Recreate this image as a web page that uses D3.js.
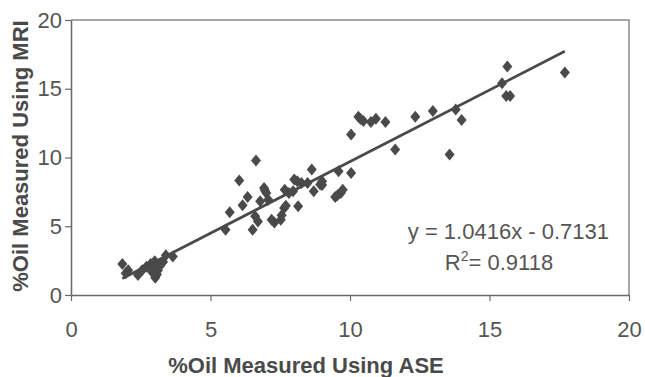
<!DOCTYPE html>
<html>
<head>
<meta charset="utf-8">
<script src="https://cdn.jsdelivr.net/npm/d3@7/dist/d3.min.js"></script>
<style>
  html, body { margin: 0; padding: 0; background: #fff; }
  svg { display: block; }
</style>
</head>
<body>
<svg id="chart" width="645" height="377"></svg>
<script>
// %Oil measured by accelerated solvent extraction (ASE)
const aseValues = [
  1.84, 1.96, 2.05, 2.40, 2.55, 2.70, 2.85, 2.95, 3.00, 3.02, 3.08, 3.12, 3.20, 3.30, 3.40, 3.65, 2.90,
  5.54, 5.69, 6.03, 6.15, 6.33, 6.51, 6.63, 6.60, 6.70, 6.78, 6.92, 7.00, 7.07, 7.19, 7.29, 7.52,
  7.64, 7.66, 7.81, 7.96, 8.11, 8.14, 8.26, 8.48, 8.63, 8.70, 8.93, 9.00, 9.47, 9.59, 9.67, 9.74,
  10.04, 10.04, 10.30, 10.48, 10.75, 10.93, 11.27, 11.62, 12.34, 12.97, 13.57, 13.79, 14.00,
  15.45, 15.64, 15.60, 15.74, 17.70,
  6.95, 7.55, 7.70, 8.00, 9.55, 10.38, 9.00
];
// %Oil measured by MRI for the same samples
const mriValues = [
  2.26, 1.58, 1.80, 1.46, 1.80, 2.05, 2.25, 1.95, 2.45, 1.25, 1.50, 1.80, 2.15, 2.40, 2.90, 2.80, 1.70,
  4.74, 6.01, 8.32, 6.52, 7.13, 4.74, 9.78, 5.72, 5.35, 6.81, 7.79, 7.42, 6.93, 5.47, 5.28, 5.47,
  6.33, 7.66, 7.42, 7.54, 8.27, 6.45, 8.15, 8.15, 9.12, 7.54, 8.03, 8.27, 7.13, 9.00, 7.42, 7.66,
  11.68, 8.88, 12.97, 12.65, 12.58, 12.82, 12.58, 10.58, 12.97, 13.38, 10.22, 13.50, 12.73,
  15.40, 16.62, 14.48, 14.48, 16.18,
  7.60, 5.80, 6.50, 8.40, 7.25, 12.80, 8.00
];

// Least-squares fit as reported on the chart
const slope = 1.0416;
const intercept = -0.7131;
const rSquared = "0.9118";

const xTicks = [0, 5, 10, 15, 20];
const yTicks = [0, 5, 10, 15, 20];

const svg = d3.select("#chart");
const plotLeft = 71, plotRight = 629, plotTop = 20, plotBottom = 295;
const ink = "#4a4a4a";
const font = "Liberation Sans, Arial, sans-serif";

const x = d3.scaleLinear().domain([0, 20]).range([plotLeft, plotRight]);
const y = d3.scaleLinear().domain([0, 20]).range([plotBottom, plotTop]);

// plot frame (top and right edges)
svg.append("path")
  .attr("d", `M${plotLeft},${plotTop}H${plotRight}V${plotBottom}`)
  .attr("fill", "none")
  .attr("stroke", "#8a8a8a")
  .attr("stroke-width", 1.5);

// x axis
const xAxis = svg.append("g")
  .attr("transform", `translate(0,${plotBottom})`)
  .call(d3.axisBottom(x).tickValues(xTicks).tickSize(6).tickPadding(20).tickSizeOuter(0));
xAxis.select(".domain").attr("stroke", "#6a6a6a").attr("stroke-width", 1.5);
xAxis.selectAll(".tick line").attr("stroke", "#6a6a6a").attr("stroke-width", 1.2);
xAxis.selectAll("text")
  .attr("font-family", font)
  .attr("font-size", 22)
  .attr("fill", "#555");

// y axis
const yAxis = svg.append("g")
  .attr("transform", `translate(${plotLeft},0)`)
  .call(d3.axisLeft(y).tickValues(yTicks).tickSize(6).tickPadding(3).tickSizeOuter(0));
yAxis.select(".domain").attr("stroke", "#6a6a6a").attr("stroke-width", 1.5);
yAxis.selectAll(".tick line").attr("stroke", "#6a6a6a").attr("stroke-width", 1.2);
yAxis.selectAll("text")
  .attr("font-family", font)
  .attr("font-size", 22)
  .attr("fill", "#555");

// axis titles
svg.append("text")
  .attr("x", 306)
  .attr("y", 373)
  .attr("text-anchor", "middle")
  .attr("font-family", font)
  .attr("font-weight", "bold")
  .attr("font-size", 22)
  .attr("fill", "#4a4a4a")
  .text("%Oil Measured Using ASE");

svg.append("text")
  .attr("transform", `translate(28,156) rotate(-90)`)
  .attr("text-anchor", "middle")
  .attr("font-family", font)
  .attr("font-weight", "bold")
  .attr("font-size", 22)
  .attr("fill", "#4a4a4a")
  .text("%Oil Measured Using MRI");

// trendline across the observed ASE range
const xMin = d3.min(aseValues), xMax = d3.max(aseValues);
svg.append("line")
  .attr("x1", x(xMin)).attr("y1", y(slope * xMin + intercept))
  .attr("x2", x(xMax)).attr("y2", y(slope * xMax + intercept))
  .attr("stroke", ink)
  .attr("stroke-width", 2.8);

// sample markers (diamonds)
const diamond = "M0,-6L5,0L0,6L-5,0Z";
svg.append("g")
  .selectAll("path")
  .data(d3.zip(aseValues, mriValues))
  .join("path")
  .attr("transform", d => `translate(${x(d[0])},${y(d[1])})`)
  .attr("d", diamond)
  .attr("fill", ink);

// fit equation
const eq = svg.append("g")
  .attr("font-family", font)
  .attr("font-size", 22)
  .attr("fill", "#555");
eq.append("text")
  .attr("x", 609).attr("y", 239)
  .attr("text-anchor", "end")
  .text(`y = ${slope.toFixed(4)}x - ${Math.abs(intercept).toFixed(4)}`);
const r2 = eq.append("text")
  .attr("x", 499).attr("y", 270)
  .attr("text-anchor", "middle");
r2.append("tspan").text("R");
r2.append("tspan").attr("dy", -9).attr("font-size", 14).text("2");
r2.append("tspan").attr("dy", 9).text(`= ${rSquared}`);
</script>
</body>
</html>
